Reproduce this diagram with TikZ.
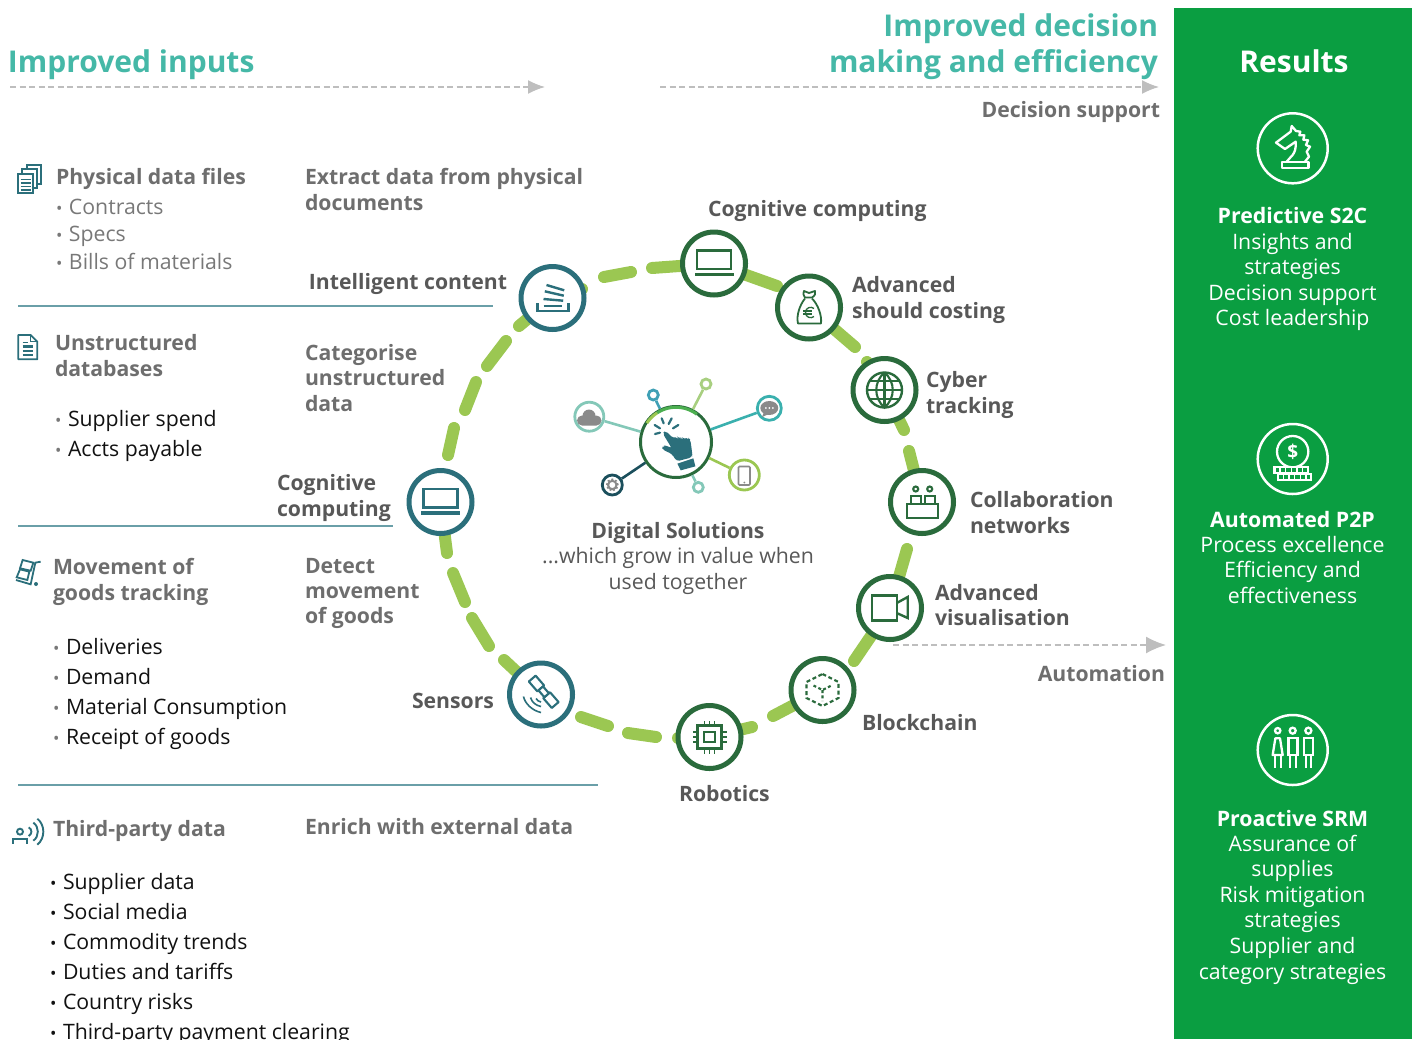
\documentclass[tikz,border=0pt]{standalone}
\usepackage{fontspec}
\setmainfont{Open Sans}
\usetikzlibrary{arrows.meta,backgrounds}
\definecolor{tealring}{HTML}{2B6F7B}
\definecolor{greenring}{HTML}{2A6B3C}
\definecolor{lime}{HTML}{9BC752}
\definecolor{panel}{HTML}{0A9E41}
\definecolor{titleteal}{HTML}{45B8A7}
\definecolor{headgray}{HTML}{6E6E6E}
\definecolor{labgray}{HTML}{585858}
\definecolor{softgray}{HTML}{787878}
\definecolor{inktext}{HTML}{111111}
\definecolor{rulecol}{HTML}{6A9FA8}
\definecolor{arrowgray}{HTML}{BEBEBE}
\definecolor{mint}{HTML}{84C8B8}
\definecolor{skyteal}{HTML}{3FA0B5}
\definecolor{paleLime}{HTML}{A8CF80}
\definecolor{chatteal}{HTML}{3AB0AE}
\definecolor{deepteal}{HTML}{1B4F5C}
\definecolor{hubgreen}{HTML}{4CAF50}
\definecolor{icongray}{HTML}{8A8A8A}
\newcommand\mlL[2]{\parbox[t]{420pt}{\setlength\baselineskip{#1}\raggedright #2}}
\newcommand\mlR[2]{\parbox[t]{420pt}{\setlength\baselineskip{#1}\raggedleft #2}}
\newcommand\mlC[2]{\parbox[t]{300pt}{\setlength\baselineskip{#1}\centering #2}}
\newcommand\bul{\makebox[13pt][l]{{\fontsize{17}{17}\selectfont •}}}
\newcommand\bulg{\makebox[13pt][l]{{\color{softgray}\fontsize{17}{17}\selectfont •}}}
\tikzset{
 lbl/.style={inner sep=0pt,outer sep=0pt,anchor=base west},
 lblr/.style={inner sep=0pt,outer sep=0pt,anchor=base east},
 lblc/.style={inner sep=0pt,outer sep=0pt,anchor=base},
 fhead/.style={font=\fontsize{21.2}{26}\selectfont\bfseries,text=headgray},
 flab/.style={font=\fontsize{21.2}{26}\selectfont\bfseries,text=labgray},
 fsoft/.style={font=\fontsize{21.25}{26}\selectfont,text=softgray},
 fink/.style={font=\fontsize{21.25}{26}\selectfont,text=inktext},
 ftitle/.style={font=\fontsize{30}{36}\selectfont\bfseries,text=titleteal},
 fres/.style={font=\fontsize{21.3}{26}\selectfont,text=white},
 fresb/.style={font=\fontsize{21.3}{26}\selectfont\bfseries,text=white},
 ringT/.style={circle,draw=tealring,line width=5pt,fill=white,minimum size=63pt,inner sep=0pt},
 ringG/.style={circle,draw=greenring,line width=5pt,fill=white,minimum size=63pt,inner sep=0pt},
 seg/.style={draw=lime,line width=12pt,line cap=round,line join=round},
 sep/.style={draw=rulecol,line width=1.3pt},
 flow/.style={draw=arrowgray,line width=1.5pt,dash pattern=on 6pt off 3.5pt,-{Latex[length=17pt,width=14pt]}},
 flowb/.style={draw=arrowgray,line width=1.5pt,dash pattern=on 6pt off 3.5pt,-{Latex[length=20pt,width=17pt]}},
 icoT/.style={draw=tealring,line width=2.1pt,fill=none},
 icoG/.style={draw=greenring,line width=2.1pt,fill=none},
 icoW/.style={draw=white,line width=2.3pt,fill=none},
 zm/.style 2 args={shift={(#1,#2)},scale=0.33333},
 spoke/.style={line width=2.6pt},
 sat/.style={circle,fill=white,inner sep=0pt,line width=2.8pt},
}
\begin{document}
\begin{tikzpicture}[x=1pt,y=-1pt]
\useasboundingbox (0,0) rectangle (1415,1039);
\clip (0,0) rectangle (1415,1039);
% panel
\fill[panel] (1174,8) rectangle (1412,1039);
% ring nodes
\node[ringT] (ic) at (552.5,298) {};
\node[ringG] (cc) at (714,263.5) {};
\node[ringG] (bag) at (809,307.5) {};
\node[ringG] (cyb) at (884.5,390) {};
\node[ringG] (col) at (922,502) {};
\node[ringG] (vid) at (890,608) {};
\node[ringG] (blk) at (822.5,690) {};
\node[ringG] (rob) at (709.5,737) {};
\node[ringT] (sen) at (541,694.5) {};
\node[ringT] (cog) at (440.5,502) {};
\begin{scope}[on background layer]
\draw[seg] (519,326) -- (ic.center) -- (582,289);
\draw[seg] (604,277) -- (631,272);
\draw[seg] (652,268) -- (cc.center);
\draw[seg] (cc.center) -- (777,286);
\draw[seg] (bag.center) -- (855,347);
\draw[seg] (867,362) -- (cyb.center) -- (904,430);
\draw[seg] (909,451) -- (col.center);
\draw[seg] (907,549) -- (vid.center) -- (854,661);
\draw[seg] (blk.center) -- (773,716);
\draw[seg] (752,727) -- (rob.center) -- (678,738);
\draw[seg] (628,733) -- (656,737);
\draw[seg] (581,717) -- (608,726);
\draw[seg] (sen.center) -- (504,660);
\draw[seg] (472,618) -- (489,646);
\draw[seg] (453,573) -- (465,602);
\draw[seg] (cog.center) -- (447,553);
\draw[seg] (448,455) -- (454,428);
\draw[seg] (465,410) -- (476,382);
\draw[seg] (487,366) -- (506,341);
\end{scope}
% flow arrows
\coordinate (f1a) at (10,87); \coordinate (f1b) at (545,87);
\coordinate (f2a) at (660,87); \coordinate (f2b) at (1159,87);
\coordinate (f3a) at (893,645); \coordinate (f3b) at (1166,645);
\draw[flow] (f1a) -- (f1b);
\draw[flow] (f2a) -- (f2b);
\draw[flowb] (f3a) -- (f3b);
% rules
\coordinate (r1a) at (18,306); \coordinate (r1b) at (493,306);
\coordinate (r2a) at (18,526); \coordinate (r2b) at (393,526);
\coordinate (r3a) at (18,785); \coordinate (r3b) at (598,785);
\draw[sep] (r1a) -- (r1b);
\draw[sep] (r2a) -- (r2b);
\draw[sep] (r3a) -- (r3b);
% titles
\node[lbl,ftitle] (t1) at (8,72) {Improved inputs};
\node[lblr,ftitle] (t2) at (1158,36) {\mlR{36pt}{Improved decision\\making and efficiency}};
\node[lblc,font=\fontsize{30}{36}\selectfont\bfseries,text=white] (t3) at (1294,72) {Results};
\node[lblr,fhead] (t4) at (1160,117) {Decision support};
\node[lblr,fhead] (t5) at (1165,681) {Automation};
% left column
\node[lbl,fhead] (a1) at (56,184) {Physical data files};
\node[lbl,fsoft] (a2) at (56,214) {\mlL{27.7pt}{\bul Contracts\\\bul Specs\\\bul Bills of materials}};
\node[lbl,fhead] (a3) at (305,184) {\mlL{26pt}{Extract data from physical\\documents}};
\node[lblr,flab] (a4) at (507,289) {Intelligent content};
\node[lbl,fhead] (b1) at (55,350) {\mlL{26pt}{Unstructured\\databases}};
\node[lbl,fhead] (b2) at (305,360) {\mlL{25.5pt}{Categorise\\unstructured\\data}};
\node[lbl,fink] (b3) at (55,426) {\mlL{30pt}{\bulg Supplier spend\\\bulg Accts payable}};
\node[lbl,flab] (b4) at (277,490) {\mlL{26pt}{Cognitive\\computing}};
\node[lbl,fhead] (c1) at (53,574) {\mlL{26pt}{Movement of\\goods tracking}};
\node[lbl,fhead] (c2) at (305,573) {\mlL{25pt}{Detect\\movement\\of goods}};
\node[lbl,fink] (c3) at (53,654) {\mlL{30pt}{\bulg Deliveries\\\bulg Demand\\\bulg Material Consumption\\\bulg Receipt of goods}};
\node[lbl,flab] (c4) at (412,708) {Sensors};
\node[lbl,fhead] (d1) at (53,836) {Third-party data};
\node[lbl,fhead] (d2) at (305,834) {Enrich with external data};
\node[lbl,fink] (d3) at (50,889) {\mlL{30pt}{\bul Supplier data\\\bul Social media\\\bul Commodity trends\\\bul Duties and tariffs\\\bul Country risks\\\bul Third-party payment clearing}};
% ring labels
\node[lbl,flab] (l1) at (708,216) {Cognitive computing};
\node[lbl,flab] (l2) at (852,292) {\mlL{26pt}{Advanced\\should costing}};
\node[lbl,flab] (l3) at (926,387) {\mlL{26pt}{Cyber\\tracking}};
\node[lbl,flab] (l4) at (970,507) {\mlL{26pt}{Collaboration\\networks}};
\node[lbl,flab] (l5) at (935,600) {\mlL{25.5pt}{Advanced\\visualisation}};
\node[lbl,flab] (l6) at (862,730) {Blockchain};
\node[lbl,flab] (l7) at (679,801) {Robotics};
% centre text
\node[lblc,flab] (m1) at (678,538) {Digital Solutions};
\node[lblc,fsoft,text=labgray] (m2) at (678,563.5) {\mlC{25.5pt}{...which grow in value when\\used together}};
% results
\node[lblc,fresb] (p1) at (1292.5,223) {Predictive S2C};
\node[lblc,fres] (p2) at (1292.5,249) {\mlC{25.5pt}{Insights and\hspace*{5pt}\\strategies\hspace*{5pt}\\Decision support\\Cost leadership}};
\node[lblc,fresb] (q1) at (1292.5,527) {Automated P2P};
\node[lblc,fres] (q2) at (1292.5,552) {\mlC{25.7pt}{Process excellence\\Efficiency and\hspace*{5pt}\\effectiveness}};
\node[lblc,fresb] (s1) at (1292.5,826) {Proactive SRM};
\node[lblc,fres] (s2) at (1292.5,851) {\mlC{25.6pt}{Assurance of\hspace*{5pt}\\supplies\\Risk mitigation\hspace*{5pt}\\strategies\\Supplier and\hspace*{5pt}\\category strategies}};
% icons: ring
\begin{scope}[shift={(cc.center)}]
\draw[icoG] (-17,-13) rectangle (17,5.5);
\fill[greenring] (-19.5,9) rectangle (19.5,12.5);
\end{scope}
\begin{scope}[shift={(cog.center)}]
\draw[icoT] (-17,-13) rectangle (17,5.5);
\fill[tealring] (-19.5,9) rectangle (19.5,12.5);
\end{scope}
\begin{scope}[shift={(ic.center)}]
\draw[icoT,line width=2.4pt] (-15,5) -- (-15,13) -- (16,13) -- (16,5);
\draw[icoT,line width=2.4pt] (-9,7.7) -- (9.7,7.7);
\draw[icoT,line width=2.4pt] (-9,1) -- (10.7,2.7);
\draw[icoT,line width=2.4pt] (-7.7,-6.7) -- (11.3,-2.3);
\draw[icoT,line width=2.4pt] (-6,-13) -- (11.7,-7.7);
\end{scope}
\begin{scope}[shift={(bag.center)}]
\draw[icoG,line width=1.8pt,line join=round] (-4,-10) .. controls (-6,-13) and (-6,-15) .. (-5,-16.5) -- (0,-14.5) -- (6,-16.5) .. controls (7,-14) and (6,-12) .. (3,-10) -- cycle;
\draw[icoG,line width=1.8pt,line join=round] (-4,-9) .. controls (-9,-3) and (-13,8) .. (-11,16) -- (12,16) .. controls (13,8) and (9,-3) .. (3,-9);
\draw[icoG,line width=1.3pt] (5,1) .. controls (2,-1.5) and (-3.5,0) .. (-3.5,5) .. controls (-3.5,10) and (2,11.5) .. (5,9);
\draw[icoG,line width=1.3pt] (-6,3.5) -- (2.5,3.5) (-6,6.5) -- (2.5,6.5);
\end{scope}
\begin{scope}[shift={(cyb.center)}]
\draw[icoG,line width=2.4pt] (0,0) circle[radius=17.5pt];
\draw[icoG] (0,-17.5) .. controls (-11,-8) and (-11,8) .. (0,17.5) .. controls (11,8) and (11,-8) .. (0,-17.5);
\draw[icoG] (0,-17.5) -- (0,17.5) (-17.5,0) -- (17.5,0) (-14.5,-9) -- (14.5,-9) (-14.5,9) -- (14.5,9);
\end{scope}
\begin{scope}[shift={(col.center)}]
\draw[icoG] (-14.7,2.3) rectangle (16,16);
\draw[icoG] (-10.7,-6) rectangle (-1.3,2.3);
\draw[icoG] (2.7,-6) rectangle (12.7,2.3);
\draw[icoG] (-6.3,-13) circle[radius=2.5pt];
\draw[icoG] (7.7,-13) circle[radius=2.5pt];
\end{scope}
\begin{scope}[shift={(vid.center)}]
\draw[icoG,line width=2.4pt] (-18.3,-12.7) rectangle (6.7,12.3);
\draw[icoG,line width=2.4pt] (6.7,-5) -- (17.7,-11) -- (17.7,10) -- (6.7,5);
\end{scope}
\begin{scope}[shift={(blk.center)}]
\draw[icoG,line width=2.2pt,dash pattern=on 4pt off 2.6pt] (0,-16) -- (16,-8) -- (16,8) -- (0,16) -- (-16,8) -- (-16,-8) -- cycle;
\draw[icoG,line width=2.2pt,dash pattern=on 3pt off 2.4pt] (-9,-4.5) -- (0,0) -- (9,-4.5) (0,0) -- (0,11);
\end{scope}
\begin{scope}[shift={(rob.center)}]
\draw[icoG,line width=2.3pt] (-12,-11.5) rectangle (12,11.5);
\draw[icoG,line width=2.3pt] (-5.2,-5) rectangle (5.2,5.2);
\foreach \k in {-5,0,5}{
 \draw[icoG,line width=1.4pt] (\k,-11.5) -- (\k,-16.5) (\k,11.5) -- (\k,16.5) (-12,\k) -- (-17,\k) (12,\k) -- (17,\k);
}
\end{scope}
\begin{scope}[shift={(sen.center)}]
\begin{scope}[shift={(2.7,-2.7)},rotate=41]
\draw[icoT,line join=round] (-4.5,-17.5) rectangle (4.5,-4.5);
\draw[icoT,line join=round] (-4.5,4.5) rectangle (4.5,17.5);
\draw[icoT,line join=round,fill=white] (-3,-4.5) rectangle (3,4.5);
\end{scope}
\draw[icoT,line width=1.6pt] (-17.5,2) .. controls (-16,9) and (-9,16) .. (0,18);
\draw[icoT,line width=1.6pt] (-10.5,3) .. controls (-9,8) and (-5,11) .. (0,12);
\draw[icoT,line width=1.6pt] (-5,4) .. controls (-4,6) and (-2,7) .. (0,7.5);
\end{scope}
% hub
\node[circle,draw=greenring,line width=3pt,fill=white,minimum size=71pt,inner sep=0pt] (hub) at (676,442) {};
\node[sat,draw=mint,minimum size=29pt] (n1) at (589.3,416.7) {};
\node[sat,draw=skyteal,minimum size=10pt] (n2) at (653.3,395) {};
\node[sat,draw=paleLime,minimum size=10pt] (n3) at (706,384) {};
\node[sat,draw=chatteal,minimum size=24pt] (n4) at (769.3,408.3) {};
\node[sat,draw=lime,minimum size=30pt] (n5) at (744.3,475) {};
\node[sat,draw=mint,minimum size=10pt] (n6) at (698.3,487.3) {};
\node[sat,draw=deepteal,minimum size=20pt] (n7) at (612.3,485) {};
\draw[spoke,mint] (n1) -- (hub);
\draw[spoke,skyteal] (n2) -- (hub);
\draw[spoke,paleLime] (n3) -- (hub);
\draw[spoke,chatteal] (n4) -- (hub);
\draw[spoke,lime] (n5) -- (hub);
\draw[spoke,mint] (n6) -- (hub);
\draw[spoke,deepteal] (n7) -- (hub);
\draw[hubgreen,line width=3pt] plot[domain=237:307,samples=24] ({676+34.7*cos(\x)},{442+34.7*sin(\x)});
\draw[lime,line width=3pt] plot[domain=213:237,samples=10] ({676+34.7*cos(\x)},{442+34.7*sin(\x)});
% cloud
\fill[icongray] (582,420.5) circle[radius=5pt] (589,416) circle[radius=6.5pt] (596.5,420.5) circle[radius=5pt] (582,421) rectangle (596.5,425.5);
% chat
\fill[icongray] (769.3,408) ellipse[x radius=9pt,y radius=7pt];
\fill[icongray] (764,412) -- (762,417) -- (769,414) -- cycle;
\foreach \k in {-3.5,0,3.5}{\fill[white] (769.3+\k,408) circle[radius=1pt];}
% phone
\draw[icongray,line width=1.6pt,rounded corners=1pt] (738.5,466.5) rectangle (750,485);
\fill[icongray] (744.3,482.5) circle[radius=1pt];
% gear
\draw[icongray,line width=2pt] (612.3,485) circle[radius=4.2pt];
\draw[icongray,line width=1.8pt,dash pattern=on 1.9pt off 1.9pt] (612.3,485) circle[radius=5.6pt];
% hand
\begin{scope}[zm={560}{370}]
\fill[tealring,rounded corners=3pt] (308,190) -- (316,182) -- (340,205) -- (352,201) -- (356,206) -- (366,202) -- (372,208) -- (384,203) -- (391,209) -- (397,252) -- (396,262) -- (350,274) -- (336,252) -- (306,238) -- (308,228) -- (320,226) -- (336,236) -- cycle;
\fill[tealring] (352,281) -- (400,265) -- (406,289) -- (362,301) -- cycle;
\draw[tealring,line width=2.2pt,line cap=round] (305,145) -- (311,160) (335,145) -- (326,162) (284,165) -- (300,175) (285,192) -- (300,188) (355,165) -- (339,175);
\end{scope}
% left icons
\begin{scope}[zm={0}{150}]
\draw[icoT,line width=1.8pt] (55,72) rectangle (100,130);
\draw[icoT,line width=1.8pt] (67,72) -- (67,58) -- (112,58) -- (112,115) -- (100,115);
\draw[icoT,line width=1.8pt] (82,58) -- (82,46) -- (124,46) -- (124,103) -- (112,103);
\draw[icoT,line width=1.5pt] (62,88) -- (93,88) (62,99) -- (93,99) (62,110) -- (93,110) (62,120) -- (93,120);
\draw[icoT,line width=1.8pt,line join=round] (55,555) -- (92,555) -- (112,575) -- (112,628) -- (55,628) -- cycle;
\draw[icoT,line width=1.3pt] (92,555) -- (92,575) -- (112,575);
\draw[icoT,line width=1.4pt] (68,578) -- (85,578) (68,603) -- (100,603) (68,615) -- (100,615);
\draw[icoT,line width=2.8pt] (68,590) -- (100,590);
\end{scope}
\begin{scope}[zm={0}{540}]
\draw[icoT,line width=1.8pt] (68,60) -- (100,68) -- (92,92) -- (60,85) -- cycle;
\draw[icoT,line width=1.8pt] (60,88) -- (88,95) -- (82,120) -- (50,112) -- cycle;
\draw[icoT,line width=1.8pt] (122,65) -- (106,68) -- (92,133) -- (48,120);
\fill[tealring] (108,132) circle[radius=6pt];
\draw[icoT,line width=1.9pt] (60,875) circle[radius=9pt];
\draw[icoT,line width=1.9pt] (38,911) -- (38,898) -- (82,898) -- (82,911);
\draw[icoT,line width=1.9pt] (86,862) .. controls (97,868) and (97,882) .. (86,888);
\draw[icoT,line width=1.9pt] (100,848) .. controls (118,860) and (118,890) .. (100,902);
\draw[icoT,line width=1.9pt] (112,836) .. controls (136,855) and (136,895) .. (112,914);
\end{scope}
% result icons
\node[circle,draw=white,line width=2.5pt,minimum size=70pt,inner sep=0pt] (w1) at (1292.7,148.3) {};
\node[circle,draw=white,line width=2.5pt,minimum size=70pt,inner sep=0pt] (w2) at (1292.7,459) {};
\node[circle,draw=white,line width=2.5pt,minimum size=70pt,inner sep=0pt] (w3) at (1292.7,750) {};
\begin{scope}[zm={1240}{100}]
\draw[icoW,line join=round] (125,185) rectangle (205,205);
\draw[icoW,line join=round] (140,185) .. controls (150,170) and (170,165) .. (167,125) -- (135,147) -- (108,128) -- (152,95) -- (155,78) -- (168,93) -- (181,95) -- (178,106) -- (193,106) -- (190,119) -- (204,121) -- (198,135) -- (210,140) -- (200,155) -- (207,170) -- (195,185);
\end{scope}
\begin{scope}[zm={1240}{415}]
\draw[icoW] (158,110) circle[radius=47pt];
\node[inner sep=0pt,text=white,font=\fontsize{19}{19}\selectfont\bfseries] (dollar) at (158,110) {\$};
\draw[icoW,fill=panel] (103,157) rectangle (203,175);
\draw[icoW,fill=panel] (113,177) rectangle (213,195);
\foreach \k in {120,137,154,171,188}{\draw[icoW,line width=1.5pt] (\k,157) -- (\k,175);}
\foreach \k in {130,147,164,181,198}{\draw[icoW,line width=1.5pt] (\k,177) -- (\k,195);}
\end{scope}
\begin{scope}[zm={1240}{705}]
\draw[icoW] (113,77) circle[radius=8pt] (158,77) circle[radius=9pt] (205,77) circle[radius=9pt];
\draw[icoW,line join=round] (106,100) -- (120,100) -- (128,150) -- (98,150) -- cycle;
\draw[icoW] (105,150) -- (105,188) (122,150) -- (122,188);
\draw[icoW] (145,100) rectangle (172,150);
\draw[icoW] (150,150) -- (150,188) (167,150) -- (167,188);
\draw[icoW] (192,100) rectangle (218,150);
\draw[icoW] (197,150) -- (197,188) (213,150) -- (213,188);
\end{scope}
\end{tikzpicture}
\end{document}
